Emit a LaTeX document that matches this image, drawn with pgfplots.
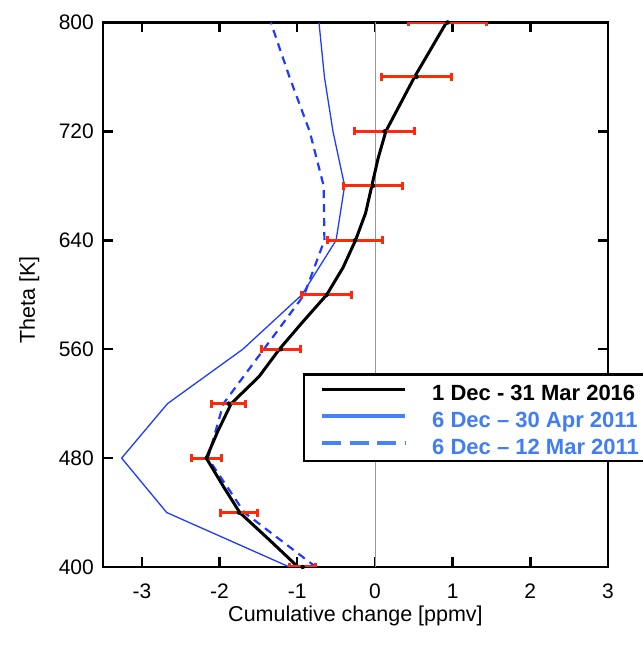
\documentclass[border=0pt]{standalone}
\usepackage{fontspec}
\setmainfont{Liberation Sans}
\usepackage{pgfplots}
\pgfplotsset{compat=1.18}
\definecolor{lblue}{RGB}{30,60,255}
\definecolor{legblue}{RGB}{70,130,250}
\definecolor{txtblue}{RGB}{65,125,245}
\definecolor{ered}{RGB}{255,40,10}
\begin{document}
\begin{tikzpicture}
\path[use as bounding box] (-103pt,-85pt) rectangle (539pt,567pt);
\begin{axis}[
  scale only axis, width=505pt, height=544.5pt,
  xmin=-3.5, xmax=3, ymin=400, ymax=800,
  xtick={-3,...,3}, ytick={400,480,...,800},
  tick align=inside, major tick length=10pt,
  axis line style={line width=2.5pt},
  every tick/.style={black, line width=2.5pt},
  /pgf/number format/assume math mode=true,
  tick label style={font=\fontsize{21}{22}\selectfont},
  xticklabel style={inner sep=0pt, anchor=base, yshift=-31pt},
  yticklabel style={inner sep=0pt, anchor=east, xshift=-9pt},
  xlabel={Cumulative change [ppmv]},
  ylabel={Theta [K]},
  label style={font=\fontsize{21.5}{23}\selectfont},
  xlabel style={at={(axis description cs:0.5,-0.0992)}, anchor=base, inner sep=0pt},
  ylabel style={at={(axis description cs:-0.1347,0.49)}, anchor=base, inner sep=0pt},
  legend style={
    at={(0.396,0.3557)}, anchor=north west,
    draw=black, line width=2.5pt, fill=white,
    inner xsep=16pt, inner ysep=5pt,
    row sep=5.2pt, column sep=25pt,
    font=\bfseries\fontsize{22}{24}\selectfont,
    nodes={inner sep=0pt, text height=21pt, text depth=1pt},
  },
  legend cell align=left,
  legend image code/.code={\draw[#1] (0pt,1.5pt) -- (83pt,1.5pt);},
]
\addplot[gray!80, line width=0.8pt, forget plot] coordinates {(0,400) (0,800)};
% 6 Dec - 30 Apr 2011
\addplot[lblue, line width=1.3pt, forget plot] coordinates {
(-1.10,400) (-2.68,440) (-3.26,480) (-2.67,520) (-1.70,560) (-0.94,600)
(-0.50,640) (-0.39,680) (-0.54,720) (-0.65,760) (-0.72,800)};
% 6 Dec - 12 Mar 2011
\addplot[lblue, line width=2.2pt, dash pattern=on 8pt off 6pt, forget plot] coordinates {
(-0.76,400) (-1.68,440) (-2.15,480) (-1.95,520) (-1.43,560) (-0.91,600)
(-0.65,640) (-0.66,680) (-0.84,720) (-1.10,760) (-1.34,800)};
% 1 Dec - 31 Mar 2016
\addplot[black, line width=3pt, forget plot] coordinates {
(-0.99,400) (-1.36,420) (-1.74,440) (-1.96,460) (-2.17,480) (-2.02,500)
(-1.85,520) (-1.49,540) (-1.23,560) (-0.93,580) (-0.62,600) (-0.41,620)
(-0.25,640) (-0.12,660) (-0.04,680) (0.04,700) (0.14,720) (0.51,760) (0.92,800)};
% error bars
\addplot[only marks, mark=none, forget plot,
  error bars/.cd, x dir=both, x explicit, error mark=|,
  error bar style={draw=ered, line width=3pt, solid},
  error mark options={draw=ered, line width=3pt, mark size=4pt, solid}]
coordinates {
(-0.93,400) +- (0.17,0)
(-1.75,440) +- (0.24,0)
(-2.165,480) +- (0.195,0)
(-1.88,520) +- (0.22,0)
(-1.21,560) +- (0.25,0)
(-0.62,600) +- (0.32,0)
(-0.255,640) +- (0.355,0)
(-0.025,680) +- (0.375,0)
(0.125,720) +- (0.385,0)
(0.535,760) +- (0.455,0)
(0.935,800) +- (0.505,0)};
\addlegendimage{black, line width=3pt}
\addlegendentry{1 Dec - 31 Mar 2016}
\addlegendimage{legblue, line width=4pt}
\addlegendentry{\textcolor{txtblue}{6 Dec – 30 Apr 2011}}
\addlegendimage{legblue, line width=4pt, dash pattern=on 19pt off 8.5pt}
\addlegendentry{\textcolor{txtblue}{6 Dec – 12 Mar 2011}}
\end{axis}
\end{tikzpicture}
\end{document}
